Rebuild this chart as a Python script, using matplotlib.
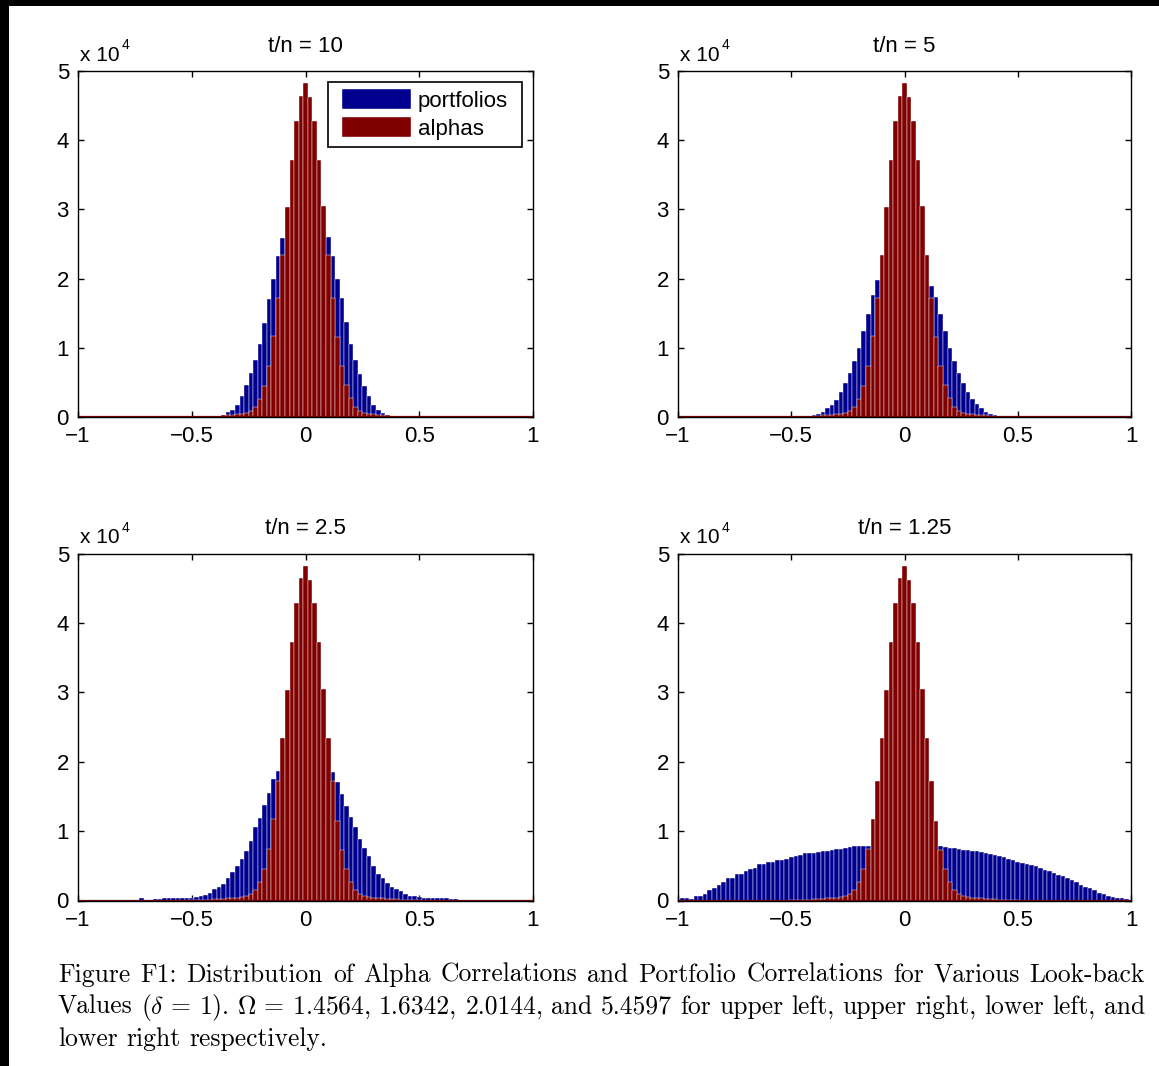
import re
import numpy as np
import matplotlib
matplotlib.use("Agg")
import matplotlib.pyplot as plt
from matplotlib.patches import Rectangle

# ---------------- data (counts in units of 10^4) ----------------
BIN_CENTERS = np.round(np.arange(-1.0, 1.0001, 0.02), 2)   # 101 histogram bins

ALPHAS = [
    0, 0, 0, 0, 0, 0, 0, 0, 0, 0,
    0, 0, 0, 0, 0, 0, 0, 0, 0, 0,
    0, 0, 0, 0, 0, 0.005, 0.006, 0.008, 0.01, 0.012,
    0.015, 0.02, 0.025, 0.03, 0.035, 0.04, 0.05, 0.06, 0.09, 0.15,
    0.26, 0.45, 0.74, 1.17, 1.72, 2.34, 3.04, 3.72, 4.28, 4.64,
    4.82, 4.62, 4.28, 3.72, 3.05, 2.34, 1.72, 1.15, 0.73, 0.46,
    0.27, 0.15, 0.09, 0.06, 0.05, 0.04, 0.035, 0.03, 0.025, 0.02,
    0.015, 0.012, 0.01, 0.008, 0.006, 0.005, 0, 0, 0, 0,
    0, 0, 0, 0, 0, 0, 0, 0, 0, 0,
    0, 0, 0, 0, 0, 0, 0, 0, 0, 0,
    0,
]

PORT_TN10 = [
    0, 0, 0, 0, 0, 0, 0, 0, 0, 0,
    0, 0, 0, 0, 0, 0, 0, 0, 0, 0,
    0, 0, 0, 0, 0, 0, 0, 0, 0, 0,
    0, 0.01, 0.03, 0.07, 0.10, 0.17, 0.31, 0.46, 0.63, 0.82,
    1.06, 1.36, 1.70, 2.00, 2.33, 2.58, 2.95, 3.09, 3.18, 3.24,
    3.26, 3.24, 3.16, 3.05, 2.90, 2.60, 2.33, 2.00, 1.72, 1.38,
    1.05, 0.83, 0.62, 0.45, 0.30, 0.18, 0.10, 0.06, 0.03, 0.01,
    0, 0, 0, 0, 0, 0, 0, 0, 0, 0,
    0, 0, 0, 0, 0, 0, 0, 0, 0, 0,
    0, 0, 0, 0, 0, 0, 0, 0, 0, 0,
    0,
]

PORT_TN5 = [
    0, 0, 0, 0, 0, 0, 0, 0, 0, 0,
    0, 0, 0, 0, 0, 0, 0, 0, 0, 0,
    0, 0, 0, 0, 0, 0, 0, 0, 0.005, 0.01,
    0.03, 0.04, 0.07, 0.13, 0.18, 0.25, 0.36, 0.49, 0.64, 0.81,
    1.00, 1.24, 1.49, 1.76, 1.98, 2.25, 2.45, 2.60, 2.76, 2.88,
    2.91, 2.88, 2.70, 2.52, 2.32, 2.08, 1.90, 1.74, 1.49, 1.25,
    1.00, 0.81, 0.64, 0.49, 0.36, 0.26, 0.19, 0.13, 0.07, 0.04,
    0.03, 0.01, 0.005, 0, 0, 0, 0, 0, 0, 0,
    0, 0, 0, 0, 0, 0, 0, 0, 0, 0,
    0, 0, 0, 0, 0, 0, 0, 0, 0, 0,
    0,
]

PORT_TN2_5 = [
    0, 0, 0, 0, 0, 0, 0, 0, 0, 0,
    0, 0, 0, 0, 0.03, 0.01, 0, 0.02, 0.02, 0.03,
    0.03, 0.03, 0.03, 0.035, 0.04, 0.04, 0.05, 0.07, 0.08, 0.11,
    0.16, 0.19, 0.24, 0.32, 0.41, 0.49, 0.60, 0.71, 0.86, 1.06,
    1.19, 1.37, 1.55, 1.75, 1.86, 2.00, 2.15, 2.25, 2.32, 2.36,
    2.37, 2.35, 2.30, 2.20, 2.10, 2.00, 1.85, 1.71, 1.54, 1.36,
    1.20, 1.06, 0.89, 0.75, 0.64, 0.49, 0.38, 0.32, 0.25, 0.20,
    0.16, 0.13, 0.10, 0.07, 0.06, 0.05, 0.04, 0.03, 0.03, 0.03,
    0.03, 0.03, 0.02, 0.02, 0, 0, 0, 0, 0, 0,
    0, 0, 0, 0, 0, 0, 0, 0, 0, 0,
    0,
]

PORT_TN1_25 = [
    0.02, 0.03, 0.03, 0.02, 0.06, 0.07, 0.10, 0.15, 0.18, 0.23,
    0.27, 0.32, 0.33, 0.38, 0.38, 0.43, 0.46, 0.47, 0.52, 0.53,
    0.55, 0.56, 0.58, 0.58, 0.60, 0.62, 0.64, 0.66, 0.68, 0.69,
    0.69, 0.70, 0.72, 0.72, 0.73, 0.74, 0.74, 0.75, 0.77, 0.78,
    0.78, 0.78, 0.78, 0.79, 0.79, 0.79, 0.80, 0.80, 0.80, 0.80,
    0.80, 0.80, 0.80, 0.80, 0.79, 0.79, 0.79, 0.79, 0.78, 0.77,
    0.76, 0.75, 0.74, 0.73, 0.73, 0.72, 0.71, 0.70, 0.69, 0.67,
    0.66, 0.64, 0.62, 0.60, 0.58, 0.56, 0.54, 0.53, 0.51, 0.49,
    0.47, 0.44, 0.42, 0.39, 0.37, 0.35, 0.32, 0.29, 0.27, 0.23,
    0.20, 0.18, 0.15, 0.11, 0.09, 0.06, 0.05, 0.04, 0.03, 0.02,
    0.01,
]

TITLES = ["t/n = 10", "t/n = 5", "t/n = 2.5", "t/n = 1.25"]
PORTFOLIOS = [PORT_TN10, PORT_TN5, PORT_TN2_5, PORT_TN1_25]
SERIES_LABELS = ["portfolios", "alphas"]
XTICKS = [-1, -0.5, 0, 0.5, 1]
XTICKLABELS = ["\u22121", "\u22120.5", "0", "0.5", "1"]
YTICKS = [0, 1, 2, 3, 4, 5]

# "~" marks a fixed (non-stretching) space inside a word group
CAPTION = [
    "Figure F1: Distribution of Alpha Correlations and Portfolio Correlations for Various Look-back",
    r"Values ($\delta$~=~1). $\Omega$~=~1.4564, 1.6342, 2.0144, and 5.4597 for upper left, upper right, lower left, and",
    "lower right respectively.",
]

# ---------------- style ----------------
BLUE = "#00008f"
RED = "#800000"
plt.rcParams["font.family"] = ["Liberation Sans", "DejaVu Sans"]
plt.rcParams["mathtext.fontset"] = "cm"

W, H = 1159, 1066
fig = plt.figure(figsize=(W / 100, H / 100), dpi=100)
fig.patch.set_facecolor("white")
renderer = fig.canvas.get_renderer()

positions = [
    [78 / W, 1 - 417 / H, 455 / W, 346 / H],
    [678 / W, 1 - 417 / H, 453 / W, 346 / H],
    [78 / W, 1 - 900.5 / H, 455 / W, 347 / H],
    [678 / W, 1 - 900.5 / H, 453 / W, 347 / H],
]

FS = 16
for i, (pos, title, port) in enumerate(zip(positions, TITLES, PORTFOLIOS)):
    ax = fig.add_axes(pos)
    ax.bar(BIN_CENTERS, port, width=0.02, color=BLUE, edgecolor="white",
           linewidth=0.3, label=SERIES_LABELS[0], zorder=2)
    ax.bar(BIN_CENTERS, ALPHAS, width=0.02, color=RED, edgecolor="white",
           linewidth=0.3, label=SERIES_LABELS[1], zorder=3)
    ax.axhline(0, color=RED, lw=1.6, zorder=4)
    ax.set_xlim(-1, 1)
    ax.set_ylim(0, 5)
    ax.set_xticks(XTICKS)
    ax.set_xticklabels(XTICKLABELS)
    ax.set_yticks(YTICKS)
    ax.set_yticklabels([str(v) for v in YTICKS])
    ax.tick_params(direction="in", length=4, width=1, top=True, right=True,
                   labelsize=FS, pad=6.5)
    for s in ax.spines.values():
        s.set_linewidth(1.0)
        s.set_zorder(5)
    ax.set_title(title, fontsize=FS, pad=14)
    ax.annotate("x 10", xy=(0, 1), xycoords="axes fraction",
                xytext=(1.5, 7.5), textcoords="offset points",
                fontsize=15, ha="left", va="baseline")
    ax.annotate("4", xy=(0, 1), xycoords="axes fraction",
                xytext=(31.5, 15.5), textcoords="offset points",
                fontsize=10, ha="left", va="baseline")
    if i == 0:
        leg = ax.legend(loc="upper right", fontsize=FS, frameon=False,
                        handlelength=3.1, handleheight=1.0, labelspacing=0.25,
                        borderpad=0.0, handletextpad=0.3, borderaxespad=0.0,
                        bbox_to_anchor=(1 - 25 / 455, 1 - 18 / 346))
        leg.set_zorder(10)
        fig.canvas.draw()
        bb = leg.get_window_extent(renderer)
        padx, pady = 14, 7
        frame = Rectangle(((bb.x0 - padx) / W, (bb.y0 - pady) / H),
                          (bb.width + 2 * padx) / W, (bb.height + 2 * pady) / H,
                          transform=fig.transFigure, facecolor="white",
                          edgecolor="black", linewidth=1.2, zorder=9)
        ax.add_artist(frame)
        frame.set_clip_on(False)

# ---------------- caption (justified) ----------------
x0, x1 = 58 / W, 1145 / W
ys = [1 - 982 / H, 1 - 1014 / H, 1 - 1046 / H]
CAP_FAMILY = ["cmr10", "DejaVu Serif"]


def split_tokens(line):
    return [t.replace("~", " ") for t in re.findall(r"(?:\$[^$]*\$|[^\s$])+", line)]


def token_widths(tokens, size):
    ws = []
    for t in tokens:
        tt = fig.text(0, 0, t, fontsize=size, family=CAP_FAMILY)
        ws.append(tt.get_window_extent(renderer).width)
        tt.remove()
    return ws


tok0 = split_tokens(CAPTION[0])
base = 16.0
w0 = token_widths(tok0, base)
natural = sum(w0) + (len(tok0) - 1) * 0.333 * base * 100 / 72
CAP_FS = base * (x1 - x0) * W / natural * 0.985

for li, (line, y) in enumerate(zip(CAPTION, ys)):
    tokens = split_tokens(line)
    texts = [fig.text(0, y, t, fontsize=CAP_FS, family=CAP_FAMILY,
                      ha="left", va="baseline") for t in tokens]
    widths = [t.get_window_extent(renderer).width for t in texts]
    if li < len(CAPTION) - 1:
        gap = ((x1 - x0) * W - sum(widths)) / (len(tokens) - 1)
    else:
        gap = CAP_FS * 100 / 72 * 0.333
    x = x0 * W
    for t, w in zip(texts, widths):
        t.set_x(x / W)
        x += w + gap

# black scan borders
fig.patches.append(Rectangle((0, 1 - 6 / H), 1, 6 / H, transform=fig.transFigure,
                             facecolor="black", edgecolor="none", zorder=100))
fig.patches.append(Rectangle((0, 0), 9 / W, 1, transform=fig.transFigure,
                             facecolor="black", edgecolor="none", zorder=100))

fig.savefig("out.png", dpi=100)
